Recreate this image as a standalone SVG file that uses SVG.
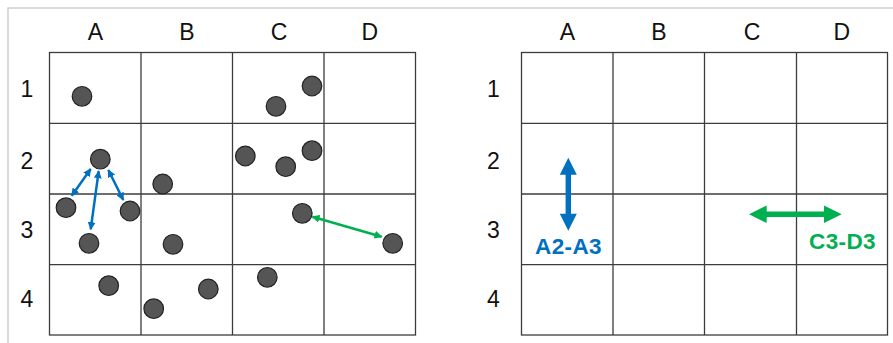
<svg xmlns="http://www.w3.org/2000/svg" width="893" height="343" viewBox="0 0 893 343">
<defs>
<style>
.frame{fill:none;stroke:#cfcfcf;stroke-width:1.5}
.grid line,.grid rect{fill:none;stroke:#3c3c3c;stroke-width:1.3}
.lbl{font-family:"Liberation Sans",Arial,sans-serif;font-size:23px;fill:#111;text-anchor:middle}
.dot{fill:#555;stroke:#222;stroke-width:1.2}
.blue{stroke:#0070C0;stroke-width:2.5;fill:none}
.green{stroke:#00B050;stroke-width:2.5;fill:none}
.tag{font-family:"Liberation Sans",Arial,sans-serif;font-size:22.5px;font-weight:bold;text-anchor:middle;letter-spacing:0.4px}
</style>
<marker id="hb" viewBox="0 0 10 10" refX="9" refY="5" markerWidth="3.2" markerHeight="3.2" orient="auto-start-reverse"><path d="M0,0 L10,5 L0,10 z" fill="#0070C0"/></marker>
<marker id="hg" viewBox="0 0 10 10" refX="9" refY="5" markerWidth="3.2" markerHeight="3.2" orient="auto-start-reverse"><path d="M0,0 L10,5 L0,10 z" fill="#00B050"/></marker>
</defs>
<rect width="893" height="343" fill="#fff"/>
<path class="frame" d="M8,343 L8,8 L893,8"/>

<g id="left-grid" class="grid">
<rect x="49.5" y="52.5" width="366" height="282.5"/>
<line x1="141" y1="52.5" x2="141" y2="335"/>
<line x1="232.5" y1="52.5" x2="232.5" y2="335"/>
<line x1="324" y1="52.5" x2="324" y2="335"/>
<line x1="49.5" y1="123.3" x2="415.5" y2="123.3"/>
<line x1="49.5" y1="194" x2="415.5" y2="194"/>
<line x1="49.5" y1="264.6" x2="415.5" y2="264.6"/>
</g>
<g id="left-labels">
<text class="lbl" x="95.3" y="40">A</text>
<text class="lbl" x="186.8" y="40">B</text>
<text class="lbl" x="279" y="40">C</text>
<text class="lbl" x="369.7" y="40">D</text>
<text class="lbl" x="27" y="96.5">1</text>
<text class="lbl" x="27" y="169">2</text>
<text class="lbl" x="27" y="238.3">3</text>
<text class="lbl" x="27" y="306.7">4</text>
</g>

<g id="right-grid" class="grid">
<rect x="521.5" y="52.5" width="366" height="282.5"/>
<line x1="613" y1="52.5" x2="613" y2="335"/>
<line x1="704.5" y1="52.5" x2="704.5" y2="335"/>
<line x1="796.5" y1="52.5" x2="796.5" y2="335"/>
<line x1="521.5" y1="123.3" x2="887.5" y2="123.3"/>
<line x1="521.5" y1="194" x2="887.5" y2="194"/>
<line x1="521.5" y1="264.6" x2="887.5" y2="264.6"/>
</g>
<g id="right-labels">
<text class="lbl" x="567.3" y="40">A</text>
<text class="lbl" x="659" y="40">B</text>
<text class="lbl" x="752" y="40">C</text>
<text class="lbl" x="841.7" y="40">D</text>
<text class="lbl" x="493.3" y="96.5">1</text>
<text class="lbl" x="493.3" y="169">2</text>
<text class="lbl" x="493.3" y="238.3">3</text>
<text class="lbl" x="493.3" y="306.7">4</text>
</g>

<g id="dots">
<circle id="d1" class="dot" cx="82" cy="96.3" r="9.8"/>
<circle id="d2" class="dot" cx="276" cy="106.3" r="9.8"/>
<circle id="d3" class="dot" cx="312" cy="86" r="9.8"/>
<circle id="d4" class="dot" cx="100.3" cy="159.2" r="9.8"/>
<circle id="d5" class="dot" cx="245.3" cy="156" r="9.8"/>
<circle id="d6" class="dot" cx="285.7" cy="166.7" r="9.8"/>
<circle id="d7" class="dot" cx="312" cy="150.7" r="9.8"/>
<circle id="d8" class="dot" cx="162.7" cy="184" r="9.8"/>
<circle id="d9" class="dot" cx="66" cy="207.7" r="9.8"/>
<circle id="d10" class="dot" cx="130" cy="211" r="9.8"/>
<circle id="d11" class="dot" cx="89" cy="243.3" r="9.8"/>
<circle id="d12" class="dot" cx="173" cy="244.3" r="9.8"/>
<circle id="d13" class="dot" cx="302.3" cy="213.3" r="9.8"/>
<circle id="d14" class="dot" cx="392.7" cy="243.3" r="9.8"/>
<circle id="d15" class="dot" cx="108.7" cy="285.7" r="9.8"/>
<circle id="d16" class="dot" cx="208.3" cy="289" r="9.8"/>
<circle id="d17" class="dot" cx="153.7" cy="308.7" r="9.8"/>
<circle id="d18" class="dot" cx="267.3" cy="277.3" r="9.8"/>
</g>

<g id="connectors">
<line class="blue" x1="90.7" y1="169" x2="71.7" y2="195.7" marker-start="url(#hb)" marker-end="url(#hb)"/>
<line class="blue" x1="98.7" y1="171" x2="90.7" y2="229.3" marker-start="url(#hb)" marker-end="url(#hb)"/>
<line class="blue" x1="108.3" y1="170" x2="123.3" y2="200" marker-start="url(#hb)" marker-end="url(#hb)"/>
<line class="green" x1="312.3" y1="216.7" x2="381.7" y2="236.7" marker-start="url(#hg)" marker-end="url(#hg)"/>
</g>

<g id="legend-a2a3">
<polygon fill="#0070C0" points="568.3,157.7 576.8,174.7 571,174.7 571,213.7 576.8,213.7 568.3,230.7 559.8,213.7 565.6,213.7 565.6,174.7 559.8,174.7"/>
<text class="tag" x="568.5" y="253.5" fill="#0070C0">A2-A3</text>
</g>
<g id="legend-c3d3">
<polygon fill="#00B050" points="749,214.3 766.7,205.5 766.7,211.6 824,211.6 824,205.5 841.7,214.3 824,223.1 824,217 766.7,217 766.7,223.1"/>
<text class="tag" x="842.5" y="249.3" fill="#00B050">C3-D3</text>
</g>
</svg>
